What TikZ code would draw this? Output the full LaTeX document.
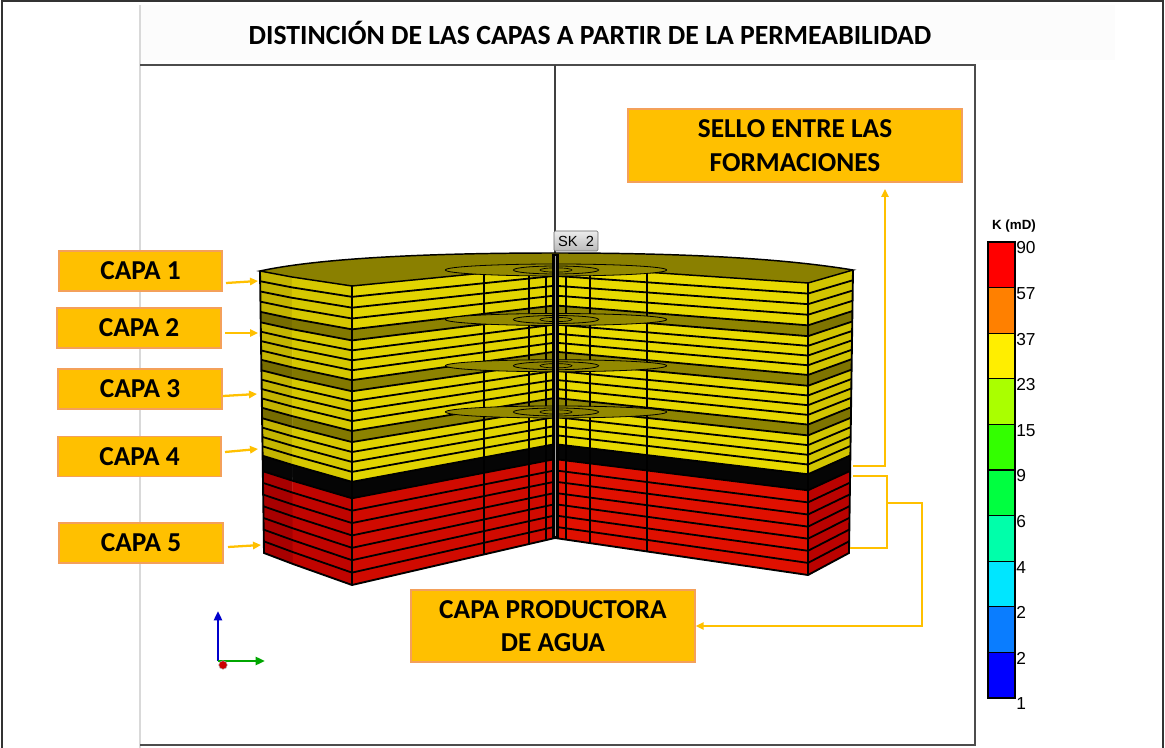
\documentclass[tikz,border=0pt]{standalone}
\usepackage{fontspec}
\setmainfont{Carlito}
\newfontfamily\arialfont{Liberation Sans}
\usetikzlibrary{calc,arrows.meta}

% callout colours
\definecolor{amber}{HTML}{FFC000}
\definecolor{amberedge}{HTML}{F4A05A}
% yellow (capas 1-4) per face
\definecolor{yAP}{HTML}{C4B500}
\definecolor{yPB}{HTML}{D6C800}
\definecolor{yBC}{HTML}{E2D400}
\definecolor{yCD}{HTML}{E8DA00}
\definecolor{yDE}{HTML}{D2C500}
% olive horizontal surfaces between capas
\definecolor{oAP}{HTML}{766C00}
\definecolor{oPB}{HTML}{827800}
\definecolor{oBC}{HTML}{8C8200}
\definecolor{oCD}{HTML}{8E8400}
\definecolor{oDE}{HTML}{7E7400}
\definecolor{topolive}{HTML}{8A8000}
\definecolor{diskolive}{HTML}{938900}
% red (water zone) per face
\definecolor{rAP}{HTML}{A80000}
\definecolor{rPB}{HTML}{C00400}
\definecolor{rBC}{HTML}{D00A00}
\definecolor{rCD}{HTML}{E01000}
\definecolor{rDE}{HTML}{BA0200}
\definecolor{blk}{HTML}{050505}
% permeability scale
\definecolor{cb0}{HTML}{FF0000}
\definecolor{cb1}{HTML}{FF8000}
\definecolor{cb2}{HTML}{FFEE00}
\definecolor{cb3}{HTML}{AAFF00}
\definecolor{cb4}{HTML}{33FF00}
\definecolor{cb5}{HTML}{00FF40}
\definecolor{cb6}{HTML}{00FFAA}
\definecolor{cb7}{HTML}{00E6FF}
\definecolor{cb8}{HTML}{0A7DFF}
\definecolor{cb9}{HTML}{0000FF}

% one face strip between columns #1 and #2, from level #3 to level #4
\newcommand\slab[5]{\filldraw[fill=#5,draw=#5,line width=0.3pt]
  ($(#1T)!#3!(#1B)$) -- ($(#2T)!#3!(#2B)$) -- ($(#2T)!#4!(#2B)$) -- ($(#1T)!#4!(#1B)$) -- cycle;}
% a full band around the cut-away block
\newcommand\band[7]{\slab{A}{P}{#1}{#2}{#3}\slab{P}{B}{#1}{#2}{#4}%
  \slab{B}{C}{#1}{#2}{#5}\slab{C}{D}{#1}{#2}{#6}\slab{D}{E}{#1}{#2}{#7}}

\begin{document}
\begin{tikzpicture}[x=0.75pt,y=-0.75pt,
  label box/.style={draw=amberedge, fill=amber, line width=1.1pt, inner sep=0pt,
    align=center, font=\bfseries\fontsize{20.5}{25}\selectfont},
  amber arrow/.style={draw=amber, line width=1.7pt, -{Triangle[length=6pt,width=5.5pt]}},
  bracket/.style={draw=amber, line width=1.9pt},
  layer line/.style={draw=black, line width=1.35pt},
  grid line/.style={draw=black, line width=0.9pt}]
\useasboundingbox (0,0) rectangle (1165,748);

% page frame and plot window
\fill[gray!2] (141,5) rectangle (1115,60);
\draw[gray!30, line width=0.8pt] (140,5) -- (140,748);
\draw[black!80, line width=1.5pt] (2,748) -- (2,1.5) -- (1163,1.5) -- (1163,748);
\draw[black!70, line width=1.2pt] (140,65) -- (975,65) -- (975,745) -- (140,745);

\node[font=\bfseries\fontsize{20.8}{24}\selectfont] (title) at (590,33)
  {DISTINCIÓN DE LAS CAPAS A PARTIR DE LA PERMEABILIDAD};

% well trajectory above the model
\draw[black!75, line width=0.9pt] (555,65) -- (555,258);

% ---------- block columns (top / bottom of each vertical edge) ----------
\coordinate (AT) at (260,271); \coordinate (AB) at (264,553);
\coordinate (PT) at (292,277); \coordinate (PB) at (293,564);
\coordinate (BT) at (352,286); \coordinate (BB) at (352,585);
\coordinate (CT) at (555,266); \coordinate (CB) at (555,538);
\coordinate (DT) at (808,283); \coordinate (DB) at (808,575);
\coordinate (ET) at (853,270); \coordinate (EB) at (849,553);

% water zone, seal and the four capas
\band{0.71}{1}{rAP}{rPB}{rBC}{rCD}{rDE}
\band{0.655}{0.71}{blk}{blk}{blk}{blk}{blk}
\band{0}{0.145}{yAP}{yPB}{yBC}{yCD}{yDE}
\band{0.145}{0.182}{oAP}{oPB}{oBC}{oCD}{oDE}
\band{0.182}{0.315}{yAP}{yPB}{yBC}{yCD}{yDE}
\band{0.315}{0.352}{oAP}{oPB}{oBC}{oCD}{oDE}
\band{0.352}{0.485}{yAP}{yPB}{yBC}{yCD}{yDE}
\band{0.485}{0.522}{oAP}{oPB}{oBC}{oCD}{oDE}
\band{0.522}{0.655}{yAP}{yPB}{yBC}{yCD}{yDE}

% grid layer boundaries
\foreach \t in {0.03625,0.0725,0.10875,0.145,0.182,0.21525,0.2485,0.28175,0.315,
  0.352,0.38525,0.4185,0.45175,0.485,0.522,0.55525,0.5885,0.62175,0.655,0.71,
  0.7514,0.7929,0.8343,0.8757,0.9171,0.9586}
  \draw[layer line] ($(AT)!\t!(AB)$) -- ($(PT)!\t!(PB)$) -- ($(BT)!\t!(BB)$)
    -- ($(CT)!\t!(CB)$) -- ($(DT)!\t!(DB)$) -- ($(ET)!\t!(EB)$);

% vertical grid columns on the cut faces
\foreach \n/\u in {G1/0.650,G2/0.872,G3/0.956} {
  \coordinate (\n T) at ($(BT)!\u!(CT)$); \coordinate (\n B) at ($(BB)!\u!(CB)$);
  \draw[grid line] (\n T) -- (\n B);}
\foreach \n/\u in {H1/0.0435,H2/0.138,H3/0.364} {
  \coordinate (\n T) at ($(CT)!\u!(DT)$); \coordinate (\n B) at ($(CB)!\u!(DB)$);
  \draw[grid line] (\n T) -- (\n B);}
\draw[grid line] (BT) -- (BB);
\draw[grid line] (DT) -- (DB);

% outline
\draw[black, line width=1.4pt] (AT) -- (AB) -- (PB) -- (BB) -- (CB) -- (DB) -- (EB) -- (ET);

% top surface of capa 1
\filldraw[fill=topolive, draw=black, line width=1.1pt]
  (AT) -- (PT) -- (BT) -- (CT) -- (DT) -- (ET)
  .. controls (780,258) and (680,253) .. (555,253)
  .. controls (430,253) and (320,258) .. (AT) -- cycle;

% refinement discs around the well at the top of each capa
\foreach \t in {0,0.182,0.352,0.522} {
  \coordinate (disc) at ($(CT)!\t!(CB)+(1,4)$);
  \filldraw[fill=diskolive, draw=black, line width=0.6pt] (disc) ellipse [x radius=83pt, y radius=4.5pt];
  \filldraw[fill=oBC, draw=black, line width=0.6pt] (disc) ellipse [x radius=32pt, y radius=3pt];
  \draw[black, line width=0.5pt] (disc) ellipse [x radius=12pt, y radius=1.6pt];
}

% well bore
\fill[black] (551.5,254) rectangle (558.5,538);
\draw[gray!70, line width=0.6pt] (555,256) -- (555,536);

% well label
\node[draw=gray!80!black, top color=gray!15, bottom color=gray!55, rounded corners=1pt,
  minimum width=33pt, minimum height=15pt, inner sep=0pt,
  font=\arialfont\fontsize{11}{12}\selectfont] (well) at (576,241) {SK~~2};

% ---------- layer callouts ----------
\node[label box, minimum width=122.25pt, minimum height=30pt] (capa1) at (140.5,271) {CAPA 1};
\node[label box, minimum width=123pt, minimum height=30pt] (capa2) at (139,328) {CAPA 2};
\node[label box, minimum width=123pt, minimum height=30pt] (capa3) at (140,389) {CAPA 3};
\node[label box, minimum width=122.25pt, minimum height=30pt] (capa4) at (139.5,456.5) {CAPA 4};
\node[label box, minimum width=123pt, minimum height=30pt] (capa5) at (141,543) {CAPA 5};

\coordinate (c1s) at (226,283); \coordinate (c1e) at (258,281);
\coordinate (c2s) at (225,333); \coordinate (c2e) at (258,333);
\coordinate (c3s) at (223,396); \coordinate (c3e) at (257,394);
\coordinate (c4s) at (225,452); \coordinate (c4e) at (258,449);
\coordinate (c5s) at (228,547); \coordinate (c5e) at (261,545);
\foreach \k in {1,...,5} \draw[amber arrow] (c\k s) -- (c\k e);

\node[label box, minimum width=250.5pt, minimum height=54.75pt] (sello) at (795,145.5)
  {SELLO ENTRE LAS\\FORMACIONES};
\node[label box, minimum width=213pt, minimum height=54pt] (agua) at (553,626)
  {CAPA PRODUCTORA\\DE AGUA};

% seal bracket
\coordinate (s0) at (853,466); \coordinate (s1) at (885,466); \coordinate (s2) at (885,189);
\draw[amber arrow] (s0) -- (s1) -- (s2);

% water-zone bracket
\coordinate (w0) at (853,476); \coordinate (w1) at (887,476);
\coordinate (w2) at (887,548); \coordinate (w3) at (850,548);
\coordinate (w4) at (887,503); \coordinate (w5) at (922,503); \coordinate (w6) at (922,626);
\draw[bracket] (w0) -- (w1) -- (w2) -- (w3);
\draw[amber arrow] (w4) -- (w5) -- (w6) -- (agua.east);

% ---------- permeability legend ----------
\node[font=\arialfont\bfseries\fontsize{10}{12}\selectfont] (ktitle) at (1014,226) {K (mD)};
\foreach \i in {0,...,9}
  \filldraw[fill=cb\i, draw=black, line width=0.9pt]
    (988,{242+\i*45.6}) rectangle (1015,{242+(\i+1)*45.6});
\foreach \v [count=\i from 0] in {90,57,37,23,15,9,6,4,2,2,1}
  \node[anchor=west, inner sep=0pt, font=\arialfont\fontsize{13}{15}\selectfont] (kl\i)
    at (1016,{242+\i*45.6+6}) {\v};

% ---------- orientation axes ----------
\coordinate (ax0) at (218,661); \coordinate (axz) at (218,611); \coordinate (axx) at (265,661);
\draw[line width=1.8pt, draw=blue!80!black, -{Triangle[length=7pt,width=6pt]}] (ax0) -- (axz);
\draw[line width=1.8pt, draw=green!65!black, -{Triangle[length=7pt,width=6pt]}] (ax0) -- (axx);
\filldraw[fill=red!80!black, draw=gray!60] (223,665) circle (3.2pt);
\end{tikzpicture}
\end{document}
